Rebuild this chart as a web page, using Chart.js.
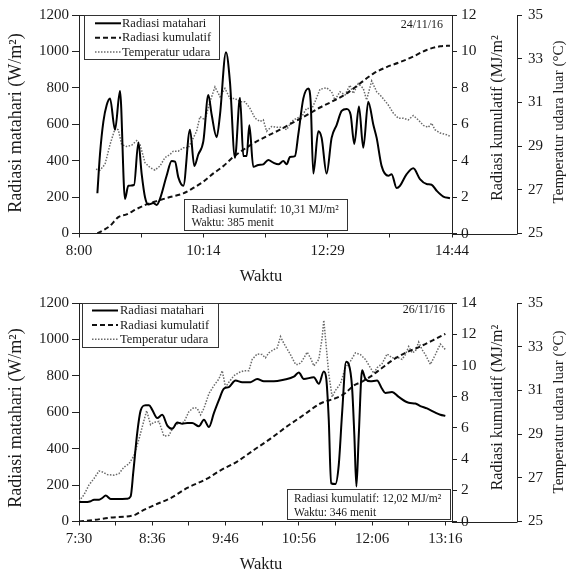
<!DOCTYPE html>
<html><head><meta charset="utf-8">
<script src="https://cdn.jsdelivr.net/npm/chart.js@4.4.0/dist/chart.umd.min.js"></script>
<style>
html,body{margin:0;padding:0;background:#fff;}
#w{position:relative;width:568px;height:576px;overflow:hidden;}
canvas{position:absolute;left:0;display:block;}
</style></head><body>
<div id="w">
<canvas id="c1" width="568" height="288" style="top:0;width:568px;height:288px"></canvas>
<canvas id="c2" width="568" height="288" style="top:288px;width:568px;height:288px"></canvas>
</div>
<script>
// ---------- shared text ----------
const seriesNames = ["Radiasi matahari", "Radiasi kumulatif", "Temperatur udara"];
const titleLeft = "Radiasi matahari (W/m²)";
const titleRight1 = "Radiasi kumulatif (MJ/m²";
const titleRight2 = "Temperatur udara luar (°C)";
const titleX = "Waktu";

// ---------- panel 1 : 24/11/16 (minutes after 8:00) ----------
const date1 = "24/11/16";
const note1 = ["Radiasi kumulatif: 10,31 MJ/m²", "Waktu: 385 menit"];
const xTicks1 = [0, 67.33, 134.67, 202, 269.33, 336.67, 404];
const xLabels1 = ["8:00", "", "10:14", "", "12:29", "", "14:44"];
const radTime1 = [19.9,22.7,26.4,30.0,33.6,39.0,44.4,49.8,53.4,59.6,64.3,67.9,71.5,75.1,80.5,84.1,87.7,94.9,100.4,104.0,107.6,113.0,120.2,124.9,129.2,134.7,140.1,143.7,149.1,152.7,159.2,163.5,168.9,174.4,178.0,181.6,184.5,188.8,194.2,199.6,205.0,210.5,215.9,221.3,224.9,228.5,233.9,237.5,243.0,248.4,250.9,253.8,259.2,262.8,268.2,273.6,279.1,284.5,289.9,294.2,298.2,303.2,307.9,313.3,318.8,322.4,327.8,335.0,338.6,344.0,347.6,354.9,362.1,369.3,376.5,381.9,387.4,394.6,401.8];
const rad1 = [221,434,615,706,742,570,782,190,262,266,500,326,199,159,167,157,190,317,398,395,308,262,570,371,434,507,760,652,529,652,996,833,416,746,425,425,594,366,376,380,404,389,380,398,380,420,425,543,742,796,724,329,561,525,329,525,597,673,684,652,492,697,471,724,597,525,370,317,326,250,262,326,358,299,272,268,235,203,194];
const cumTime1 = [19.9,26.4,33.6,42.6,51.6,62.5,73.3,84.1,98.6,113.0,123.8,134.7,145.5,156.3,167.1,178.0,188.8,203.2,217.7,232.1,246.6,261.0,275.4,289.9,304.3,318.8,333.2,347.6,362.1,376.5,391.0,401.8];
const cum1 = [0,0.18,0.42,0.9,1.05,1.35,1.6,1.78,2.0,2.2,2.5,2.85,3.3,3.7,4.2,4.6,4.95,5.34,5.7,6.1,6.5,6.92,7.28,7.69,8.24,8.78,9.14,9.41,9.72,10.08,10.28,10.31];
const tempTime1 = [18.4,22.7,28.2,33.6,39.0,42.6,46.2,51.6,57.0,62.5,66.1,71.5,76.9,82.3,87.7,93.1,98.6,102.2,107.6,113.0,118.4,122.0,127.4,131.0,136.5,141.9,147.3,152.7,158.1,163.5,168.9,174.4,179.8,185.2,190.6,196.0,199.6,203.2,208.7,214.1,219.5,224.9,230.3,235.7,241.1,246.6,252.0,255.6,261.0,268.2,273.6,277.2,282.7,288.1,293.5,297.1,302.5,307.9,311.5,317.0,322.4,327.8,335.0,340.4,345.8,351.3,356.7,362.1,367.5,372.9,378.3,381.9,385.5,391.0,398.2,401.8];
const temp1 = [27.94,27.90,28.17,29.07,29.80,29.75,29.07,28.98,29.04,29.25,29.07,28.24,28.02,27.90,28.09,28.47,28.62,28.77,28.77,28.92,28.92,29.22,29.68,30.35,30.20,31.03,31.71,31.26,31.64,31.18,31.18,31.03,31.03,30.73,30.28,30.13,30.20,29.68,29.90,29.86,29.86,29.75,30.13,30.28,30.35,30.73,30.70,31.03,31.60,31.67,31.49,31.11,31.49,31.34,31.79,31.41,31.86,31.64,31.11,31.98,31.49,31.26,30.88,30.51,30.28,30.28,30.20,30.40,30.20,29.95,29.86,30.05,29.75,29.60,29.52,29.45];

// ---------- panel 2 : 26/11/16 (minutes after 7:30) ----------
const date2 = "26/11/16";
const note2 = ["Radiasi kumulatif: 12,02 MJ/m²", "Waktu: 346 menit"];
const xTicks2 = [0, 34.6, 69.2, 103.8, 138.4, 173, 207.6, 242.2, 276.8, 311.4, 346];
const xLabels2 = ["7:30", "", "8:36", "", "9:46", "", "10:56", "", "12:06", "", "13:16"];
const radTime2 = [0,7.9,11.0,14.2,18.9,22.0,25.2,29.9,34.6,40.9,45.6,48.8,51.3,55.0,58.2,62.9,66.1,69.2,73.9,78.6,83.4,88.1,92.8,97.5,102.2,106.9,113.2,118.0,122.7,127.4,132.1,136.8,141.5,147.8,154.1,162.0,168.3,174.6,184.0,193.4,202.9,207.6,212.3,221.8,226.5,231.2,233.4,235.9,238.1,242.2,245.3,248.5,252.3,254.8,257.9,260.1,262.0,264.2,267.4,270.5,275.2,281.5,286.2,289.4,295.7,302.0,311.4,317.7,322.4,328.7,336.6,341.3,346.0];
const rad2 = [107,107,111,120,120,129,143,124,124,124,125,138,272,487,609,639,639,613,568,586,527,509,544,537,541,541,523,559,519,595,666,729,738,774,765,765,783,770,770,779,795,818,783,792,756,824,792,559,210,206,308,595,878,863,738,469,192,469,831,783,770,774,729,706,711,684,652,648,634,621,598,586,580];
const cumTime2 = [0,14.2,29.9,51.9,58.2,70.8,86.5,102.2,121.1,133.7,149.4,165.1,180.9,196.6,212.3,228.0,243.8,251.6,259.5,267.4,275.2,284.7,297.3,309.8,322.4,335.0,346.0];
const cum2 = [0,0.1,0.25,0.4,0.63,1.04,1.5,2.15,2.75,3.28,3.84,4.58,5.31,6.1,6.83,7.56,7.94,8.23,8.71,8.96,9.28,9.76,10.39,10.85,11.22,11.64,12.02];
const tempTime2 = [0,4.7,9.4,14.2,18.9,22.0,26.7,33.0,37.7,42.5,47.2,51.9,56.6,60.7,63.9,67.6,70.8,75.5,80.2,84.9,89.6,94.4,99.1,103.8,108.5,111.7,114.8,118.0,122.7,127.4,132.1,135.3,138.4,141.5,146.3,151.0,155.7,160.4,163.6,168.3,173.0,176.1,179.3,184.0,187.2,190.3,193.4,199.7,204.5,207.6,210.7,215.5,218.6,221.8,226.5,229.6,231.2,232.8,235.9,239.1,242.2,246.9,251.6,256.4,261.1,265.8,270.5,275.2,278.4,281.5,286.2,291.0,295.7,300.4,305.1,308.3,311.4,314.6,317.7,320.8,324.0,327.1,331.9,336.6,341.3,346.0];
const temp2 = [25.93,26.22,26.67,26.97,27.31,27.27,27.15,27.12,27.19,27.49,27.64,28.01,28.76,29.51,30.07,29.43,29.54,29.58,28.91,28.94,29.36,29.51,29.54,30.03,30.22,30.18,29.88,30.18,30.85,31.22,31.52,31.90,31.15,31.37,31.67,31.82,31.90,31.90,32.42,32.67,32.64,32.49,32.72,32.87,32.94,33.46,33.16,32.64,32.19,32.19,32.34,32.75,32.49,32.12,32.42,33.39,34.21,33.39,31.75,30.70,31.00,31.30,32.04,32.34,32.72,32.64,32.42,32.04,31.78,32.04,32.22,32.67,32.49,32.52,32.42,32.64,33.01,32.72,32.79,33.21,32.87,32.64,32.19,32.64,33.12,32.87];

// ---------- styling ----------
const FF = '"Liberation Serif", "Times New Roman", serif';
const AX = '#222';
const TXT = '#1a1a1a';
const f = (s) => s + 'px ' + FF;
const lineStyles = [
  {color:'#000', width:2, dash:[]},
  {color:'#111', width:2, dash:[5,3]},
  {color:'#6a6a6a', width:1.5, dash:[1.5,1.5]}
];

const deco = {
  id: 'deco',
  beforeDraw(chart, args, o) {
    const ctx = chart.ctx, a = chart.chartArea, y3 = chart.scales.y3;
    ctx.save();
    ctx.fillStyle = '#fff'; ctx.fillRect(0, 0, chart.width, chart.height);
    ctx.strokeStyle = AX; ctx.lineWidth = 1;
    const yb = Math.round(a.bottom) + 0.5;
    ctx.beginPath(); ctx.moveTo(a.right, yb); ctx.lineTo(y3.left, yb); ctx.stroke();
    ctx.restore();
  },
  afterDraw(chart, args, o) {
    const ctx = chart.ctx, a = chart.chartArea;
    ctx.save();
    // top border
    ctx.strokeStyle = AX; ctx.lineWidth = 1; ctx.setLineDash([]);
    const yt = Math.round(a.top) + 0.5;
    ctx.beginPath(); ctx.moveTo(a.left, yt); ctx.lineTo(a.right, yt); ctx.stroke();
    // legend
    const L = o.legend;
    ctx.fillStyle = '#fff'; ctx.fillRect(L.x, L.y, L.w, L.h);
    ctx.strokeStyle = '#333'; ctx.lineWidth = 1; ctx.strokeRect(L.x + 0.5, L.y + 0.5, L.w, L.h);
    ctx.font = f(12.5); ctx.fillStyle = TXT; ctx.textBaseline = 'middle'; ctx.textAlign = 'left';
    seriesNames.forEach((name, i) => {
      const s = lineStyles[i];
      ctx.strokeStyle = s.color; ctx.lineWidth = s.width; ctx.setLineDash(s.dash);
      ctx.beginPath(); ctx.moveTo(L.lx0, L.rows[i]); ctx.lineTo(L.lx1, L.rows[i]); ctx.stroke();
      ctx.fillText(name, L.tx, L.rows[i] + 0.5);
    });
    ctx.setLineDash([]);
    // note box
    const N = o.note;
    ctx.fillStyle = '#fff'; ctx.fillRect(N.x, N.y, N.w, N.h);
    ctx.strokeStyle = '#333'; ctx.lineWidth = 1; ctx.strokeRect(N.x + 0.5, N.y + 0.5, N.w, N.h);
    ctx.fillStyle = TXT; ctx.font = f(11.5);
    o.noteLines.forEach((t, i) => ctx.fillText(t, N.tx, N.rows[i]));
    // date
    ctx.font = f(12); ctx.textAlign = 'right';
    ctx.fillText(o.date, o.dateX, o.dateY);
    // axis titles
    ctx.textAlign = 'center';
    ctx.font = f(18);
    ctx.save(); ctx.translate(16, o.tl); ctx.rotate(-Math.PI / 2); ctx.fillText(titleLeft, 0, 0); ctx.restore();
    ctx.font = f(16);
    ctx.save(); ctx.translate(498, o.tr1); ctx.rotate(-Math.PI / 2); ctx.fillText(titleRight1, 0, 0); ctx.restore();
    ctx.font = f(15);
    ctx.save(); ctx.translate(559, o.tr2); ctx.rotate(-Math.PI / 2); ctx.fillText(titleRight2, 0, 0); ctx.restore();
    ctx.font = f(16.5);
    ctx.fillText(titleX, 261, o.tx);
    ctx.restore();
  }
};

function makePanel(id, P) {
  const tick = (size, pad) => ({color: TXT, font: {family: FF, size: size}, padding: pad});
  const gridOpt = (len) => ({display: true, drawOnChartArea: false, drawTicks: true, tickLength: len, color: AX, lineWidth: 1});
  return new Chart(document.getElementById(id), {
    type: 'line',
    data: {
      datasets: [
        {label: seriesNames[0], data: P.radT.map((t, i) => ({x: t, y: P.rad[i]})), yAxisID: 'y',
         borderColor: lineStyles[0].color, borderWidth: lineStyles[0].width, pointRadius: 0, cubicInterpolationMode: 'monotone', fill: false},
        {label: seriesNames[1], data: P.cumT.map((t, i) => ({x: t, y: P.cum[i]})), yAxisID: 'y2',
         borderColor: lineStyles[1].color, borderWidth: lineStyles[1].width, borderDash: lineStyles[1].dash, pointRadius: 0, cubicInterpolationMode: 'monotone', fill: false},
        {label: seriesNames[2], data: P.tempT.map((t, i) => ({x: t, y: P.temp[i]})), yAxisID: 'y3',
         borderColor: lineStyles[2].color, borderWidth: lineStyles[2].width, borderDash: lineStyles[2].dash, pointRadius: 0, tension: 0, fill: false}
      ]
    },
    options: {
      responsive: false, animation: false, devicePixelRatio: 1,
      layout: {padding: {top: 12, left: 0, right: 0, bottom: 0}},
      plugins: {legend: {display: false}, tooltip: {enabled: false}, title: {display: false}, deco: P.deco},
      scales: {
        x: {type: 'linear', min: 0, max: P.xMax,
            afterBuildTicks: s => { s.ticks = P.xTicks.map(v => ({value: v})); },
            afterFit: s => { s.height = 54.5; },
            ticks: Object.assign(tick(15, 5), {callback: (v, i) => P.xLabels[i], autoSkip: false, maxRotation: 0, minRotation: 0}),
            grid: gridOpt(4), border: {display: true, color: AX, width: 1}},
        y: {position: 'left', min: 0, max: 1200,
            afterFit: s => { s.width = 79; },
            ticks: Object.assign(tick(15, 3), {stepSize: 200, callback: v => String(v)}),
            grid: gridOpt(7), border: {display: true, color: AX, width: 1}},
        y2: {position: 'right', weight: 0, min: 0, max: P.y2Max,
            afterFit: s => { s.width = 65.5; },
            ticks: Object.assign(tick(15.5, 4), {stepSize: 2, callback: v => String(v)}),
            grid: gridOpt(5), border: {display: true, color: AX, width: 1}},
        y3: {position: 'right', weight: 1, min: 25, max: 35,
            afterFit: s => { s.width = 50.5; },
            ticks: Object.assign(tick(15, 6), {stepSize: 2, callback: v => String(v)}),
            grid: gridOpt(4.5), border: {display: true, color: AX, width: 1}}
      }
    },
    plugins: [deco]
  });
}

makePanel('c1', {
  radT: radTime1, rad: rad1, cumT: cumTime1, cum: cum1, tempT: tempTime1, temp: temp1,
  xMax: 404, xTicks: xTicks1, xLabels: xLabels1, y2Max: 12,
  deco: {
    legend: {x: 84, y: 15, w: 135, h: 44, rows: [23.3, 37.7, 52.1], lx0: 95, lx1: 121, tx: 122},
    note: {x: 184, y: 199, w: 163, h: 31, rows: [210, 223], tx: 191.5},
    noteLines: note1, date: date1, dateX: 443, dateY: 25,
    tl: 123, tr1: 118, tr2: 122, tx: 277
  }
});
makePanel('c2', {
  radT: radTime2, rad: rad2, cumT: cumTime2, cum: cum2, tempT: tempTime2, temp: temp2,
  xMax: 352.3, xTicks: xTicks2, xLabels: xLabels2, y2Max: 14,
  deco: {
    legend: {x: 82, y: 15, w: 136, h: 44, rows: [22.5, 37, 51.3], lx0: 92, lx1: 118, tx: 120},
    note: {x: 287, y: 201, w: 163, h: 30, rows: [210.5, 224.5], tx: 294},
    noteLines: note2, date: date2, dateX: 445, dateY: 22,
    tl: 130, tr1: 119.5, tr2: 124, tx: 277
  }
});
</script>
</body></html>
